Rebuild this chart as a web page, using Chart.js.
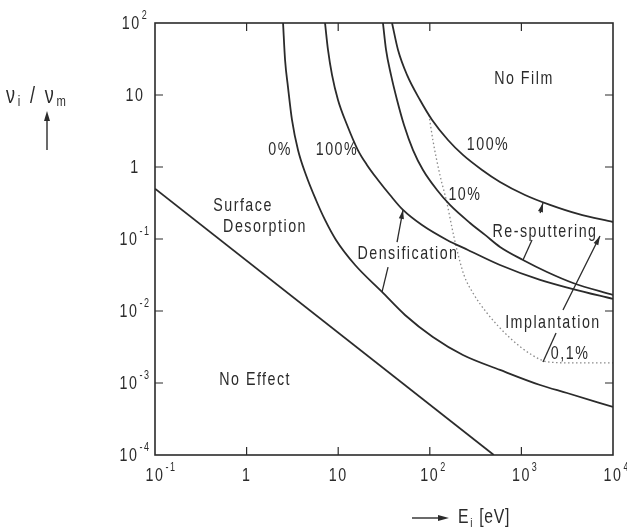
<!DOCTYPE html>
<html>
<head>
<meta charset="utf-8">
<script src="https://cdn.jsdelivr.net/npm/chart.js@4.4.1/dist/chart.umd.min.js"></script>
<style>
  html, body { margin: 0; padding: 0; background: #fff; }
  canvas { display: block; }
</style>
</head>
<body>
<canvas id="c" width="627" height="529"></canvas>
<script>
// ion energy E_i [eV] (x) vs flux ratio nu_i/nu_m (y), both log

// straight boundary "No Effect" / "Surface Desorption"
const E_NOEFFECT = [0.1, 500];
const NU_NOEFFECT = [0.5, 1e-4];

// densification 0%
const E_DENS0 = [2.50, 2.63, 2.83, 3.13, 3.64, 4.45, 5.72, 7.18, 9.46, 15.3, 30.1, 53.6, 108, 230, 584, 1600, 3150, 10000];
const NU_DENS0 = [100, 30.6, 12.9, 4.50, 1.72, 0.774, 0.348, 0.184, 0.0969, 0.0435, 0.0184, 0.0088, 0.00436, 0.00245, 0.00152, 0.000938, 0.000726, 0.000464];

// densification 100%
const E_DENS100 = [7.18, 7.74, 8.56, 9.95, 12.5, 16.4, 20.6, 27.2, 36.8, 51.0, 82.2, 154, 261, 584, 1600, 3660, 10000];
const NU_DENS100 = [100, 42.2, 19.0, 8.52, 3.83, 1.72, 1.07, 0.660, 0.408, 0.253, 0.156, 0.0969, 0.0704, 0.0435, 0.0270, 0.0202, 0.0147];

// re-sputtering 10%
const E_SPUT10 = [30.8, 33.3, 37.7, 43.9, 52.3, 65.6, 84.3, 120, 166, 275, 401, 584, 1041, 1904, 3659, 10000];
const NU_SPUT10 = [100, 42.2, 19.0, 8.52, 3.83, 1.72, 0.909, 0.479, 0.297, 0.167, 0.114, 0.0774, 0.0511, 0.0348, 0.0245, 0.0167];

// re-sputtering 100% (no film)
const E_SPUT100 = [38.7, 45.0, 56.4, 78.2, 106, 158, 230, 372, 584, 1095, 2052, 4149, 10000];
const NU_SPUT100 = [100, 42.2, 19.0, 8.52, 4.50, 2.37, 1.47, 0.909, 0.619, 0.408, 0.297, 0.2225, 0.172];

// implantation 0.1% (dotted)
const E_IMPL = [98.0, 108, 129, 154, 175, 198, 236, 296, 421, 751, 1305, 1952, 3847, 10000];
const NU_IMPL = [5.28, 2.37, 0.774, 0.316, 0.142, 0.0704, 0.0316, 0.0178, 0.00938, 0.00422, 0.00245, 0.00196, 0.00190, 0.00190];

// pointer lines, broken where the labels sit; last piece of each ends in an arrowhead
const E_ARROW_DENS = [[30.1, 35.0], [43.9, 51.0]];
const NU_ARROW_DENS = [[0.0184, 0.0408], [0.0908, 0.253]];
const E_ARROW_SPUT = [[1041, 1306], [1600, 1720]];
const NU_ARROW_SPUT = [[0.0511, 0.0969], [0.230, 0.316]];
const E_ARROW_IMPL = [[1720, 2390], [2845, 7210]];
const NU_ARROW_IMPL = [[0.00196, 0.00494], [0.0103, 0.110]];

// axes
const X_TICKS = [0.1, 1, 10, 100, 1000, 10000];
const X_TICK_LABELS = [['10', '-1'], ['1', ''], ['10', ''], ['10', '2'], ['10', '3'], ['10', '4']];
const Y_TICKS = [1e-4, 1e-3, 1e-2, 0.1, 1, 10, 100];
const Y_TICK_LABELS = [['10', '-4'], ['10', '-3'], ['10', '-2'], ['10', '-1'], ['1', ''], ['10', ''], ['10', '2']];

// region / curve labels
const LABEL_TEXT = ['No Film', '100%', '10%', '0%', '100%', 'Surface', 'Desorption', 'Densification', 'Re-sputtering', 'Implantation', '0,1%', 'No Effect'];
const LABEL_E = [1067, 432, 242, 2.32, 9.7, 0.914, 1.59, 57.8, 1810, 2210, 3400, 1.24];
const LABEL_NU = [16.7, 2.02, 0.408, 1.72, 1.72, 0.287, 0.147, 0.0619, 0.125, 0.0068, 0.00253, 0.0011];

const INK = '#2b2b2b';
const FONT = "'Liberation Sans', Arial, sans-serif";
const SQUEEZE = 0.75; // the original lettering is a narrow plotter font

const pts = (xs, ys) => xs.map((x, i) => ({ x, y: ys[i] }));

function curve(xs, ys, extra) {
  return Object.assign({
    data: pts(xs, ys),
    borderColor: INK,
    borderWidth: 1.8,
    pointRadius: 0,
    fill: false,
    cubicInterpolationMode: 'monotone'
  }, extra || {});
}

const datasets = [
  curve(E_NOEFFECT, NU_NOEFFECT, { cubicInterpolationMode: 'default', tension: 0 }),
  curve(E_DENS0, NU_DENS0),
  curve(E_DENS100, NU_DENS100),
  curve(E_SPUT10, NU_SPUT10),
  curve(E_SPUT100, NU_SPUT100),
  curve(E_IMPL, NU_IMPL, { borderColor: '#8a8a8a', borderWidth: 1.3, borderDash: [1.5, 2.5] })
];

const arrows = [[E_ARROW_DENS, NU_ARROW_DENS], [E_ARROW_SPUT, NU_ARROW_SPUT], [E_ARROW_IMPL, NU_ARROW_IMPL]];
arrows.forEach(([es, nus]) => {
  es.forEach((e, i) => {
    datasets.push(curve(e, nus[i], { borderWidth: 1.3, cubicInterpolationMode: 'default', tension: 0 }));
  });
});

function arrowHead(ctx, x0, y0, x1, y1, len, half) {
  const a = Math.atan2(y1 - y0, x1 - x0);
  ctx.beginPath();
  ctx.moveTo(x1, y1);
  ctx.lineTo(x1 - len * Math.cos(a) + half * Math.sin(a), y1 - len * Math.sin(a) - half * Math.cos(a));
  ctx.lineTo(x1 - len * Math.cos(a) - half * Math.sin(a), y1 - len * Math.sin(a) + half * Math.cos(a));
  ctx.closePath();
  ctx.fill();
}

// squeezed text: draws s at (x, y), returns drawn width
function txt(ctx, s, x, y, size, align) {
  ctx.font = size + 'px ' + FONT;
  const w = ctx.measureText(s).width * SQUEEZE;
  let left = x;
  if (align === 'center') left = x - w / 2;
  else if (align === 'right') left = x - w;
  ctx.save();
  ctx.translate(left, y);
  ctx.scale(SQUEEZE, 1);
  ctx.textAlign = 'left';
  ctx.textBaseline = 'middle';
  ctx.fillText(s, 0, 0);
  ctx.restore();
  return w;
}

function textWidth(ctx, s, size) {
  ctx.font = size + 'px ' + FONT;
  return ctx.measureText(s).width * SQUEEZE;
}

// "10" with a raised exponent, starting at x0
function drawPow(ctx, base, exp, x0, yMid) {
  const w = txt(ctx, base, x0, yMid, 19, 'left');
  if (exp) txt(ctx, exp, x0 + w + 1, yMid - 8, 12, 'left');
}

function powWidth(ctx, base, exp) {
  let w = textWidth(ctx, base, 19);
  if (exp) w += textWidth(ctx, exp, 12) + 1;
  return w;
}

const decor = {
  id: 'decor',
  afterDatasetsDraw(chart) {
    const { ctx, chartArea: a } = chart;
    const sx = chart.scales.x, sy = chart.scales.y;
    ctx.save();
    ctx.strokeStyle = INK;
    ctx.fillStyle = INK;

    // frame
    ctx.lineWidth = 1.6;
    ctx.strokeRect(a.left, a.top, a.right - a.left, a.bottom - a.top);

    // inward ticks on all four sides
    ctx.lineWidth = 1.2;
    ctx.beginPath();
    X_TICKS.slice(1, -1).forEach(v => {
      const px = sx.getPixelForValue(v);
      ctx.moveTo(px, a.bottom); ctx.lineTo(px, a.bottom - 8);
      ctx.moveTo(px, a.top); ctx.lineTo(px, a.top + 8);
    });
    Y_TICKS.slice(1, -1).forEach(v => {
      const py = sy.getPixelForValue(v);
      ctx.moveTo(a.left, py); ctx.lineTo(a.left + 8, py);
      ctx.moveTo(a.right, py); ctx.lineTo(a.right - 8, py);
    });
    ctx.stroke();

    // arrowheads on the pointer lines
    arrows.forEach(([es, nus]) => {
      const e = es[es.length - 1], n = nus[nus.length - 1];
      arrowHead(ctx, sx.getPixelForValue(e[0]), sy.getPixelForValue(n[0]),
        sx.getPixelForValue(e[1]), sy.getPixelForValue(n[1]), 9, 2.6);
    });

    // tick labels
    ctx.letterSpacing = '2px';
    X_TICKS.forEach((v, i) => {
      const [b, e] = X_TICK_LABELS[i];
      const wb = textWidth(ctx, b, 19);
      drawPow(ctx, b, e, sx.getPixelForValue(v) - wb / 2, a.bottom + 21);
    });
    Y_TICKS.forEach((v, i) => {
      const [b, e] = Y_TICK_LABELS[i];
      const w = powWidth(ctx, b, e);
      drawPow(ctx, b, e, 135 - w / 2, sy.getPixelForValue(v) + 1);
    });

    // region labels
    ctx.letterSpacing = '2px';
    LABEL_TEXT.forEach((t, i) => {
      txt(ctx, t, sx.getPixelForValue(LABEL_E[i]), sy.getPixelForValue(LABEL_NU[i]), 19, 'center');
    });

    // axis titles
    ctx.letterSpacing = '1px';
    let x0 = 6;
    const yT = 96;
    x0 += txt(ctx, '\u03bd', x0, yT, 24, 'left') + 2;
    x0 += txt(ctx, 'i', x0, yT + 6, 15, 'left') + 9;
    x0 += txt(ctx, '/', x0, yT, 24, 'left') + 9;
    x0 += txt(ctx, '\u03bd', x0, yT, 24, 'left') + 2;
    txt(ctx, 'm', x0, yT + 6, 15, 'left');

    ctx.lineWidth = 1.4;
    ctx.beginPath(); ctx.moveTo(47, 150); ctx.lineTo(47, 116); ctx.stroke();
    arrowHead(ctx, 47, 150, 47, 111, 10, 3);

    ctx.beginPath(); ctx.moveTo(412, 518); ctx.lineTo(440, 518); ctx.stroke();
    arrowHead(ctx, 412, 518, 449, 518, 11, 3);
    let xe = 458;
    const ye = 517;
    xe += txt(ctx, 'E', xe, ye, 21, 'left') + 1;
    xe += txt(ctx, 'i', xe, ye + 6, 13, 'left') + 6;
    txt(ctx, '[eV]', xe, ye, 21, 'left');

    ctx.restore();
  }
};

new Chart(document.getElementById('c'), {
  type: 'line',
  data: { datasets },
  options: {
    responsive: false,
    animation: false,
    events: [],
    layout: { padding: { top: 23, right: 14, left: 0, bottom: 0 } },
    scales: {
      x: {
        type: 'logarithmic', min: 0.1, max: 10000,
        grid: { display: false, drawTicks: false },
        border: { display: false },
        ticks: { display: false },
        afterFit: s => { s.height = 74; }
      },
      y: {
        type: 'logarithmic', min: 1e-4, max: 100,
        grid: { display: false, drawTicks: false },
        border: { display: false },
        ticks: { display: false },
        afterFit: s => { s.width = 155; }
      }
    },
    plugins: { legend: { display: false }, tooltip: { enabled: false } }
  },
  plugins: [decor]
});
</script>
</body>
</html>
